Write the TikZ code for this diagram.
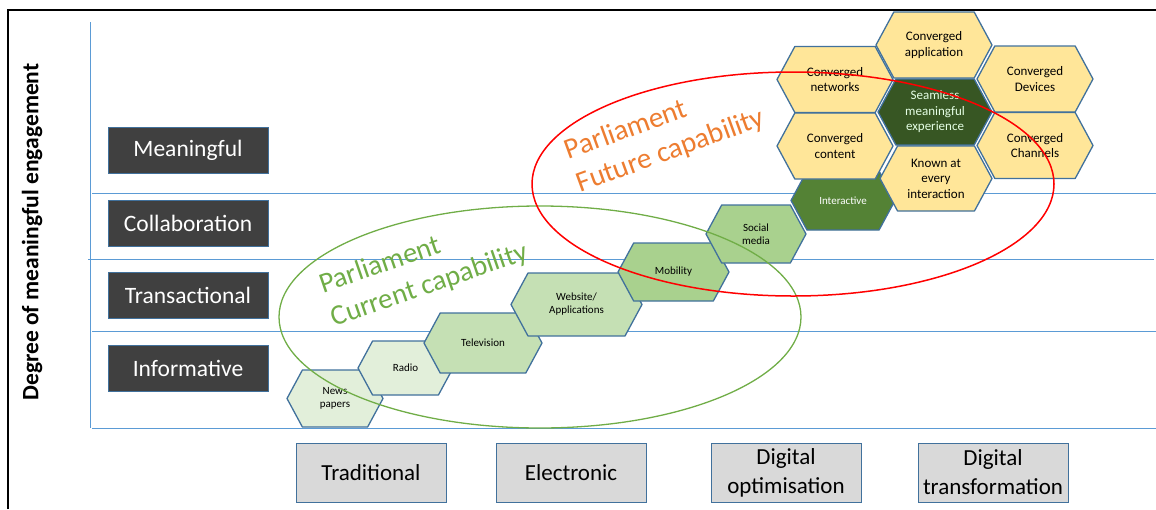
\documentclass[tikz,border=0pt]{standalone}
\usepackage{fontspec}
\setmainfont{Carlito}

\definecolor{ruleblue}{HTML}{5B9BD5}
\definecolor{edgeblue}{HTML}{41719C}
\definecolor{tiergrey}{HTML}{404040}
\definecolor{stagegrey}{HTML}{D9D9D9}
\definecolor{paleg}{HTML}{E2EFDA}
\definecolor{lightg}{HTML}{C5E0B4}
\definecolor{midg}{HTML}{A9D18E}
\definecolor{darkg}{HTML}{548235}
\definecolor{deepg}{HTML}{375623}
\definecolor{goldhex}{HTML}{FFE699}
\definecolor{nowgreen}{HTML}{70AD47}
\definecolor{futureorange}{HTML}{ED7D31}

\tikzset{
    tierbox/.style={draw=edgeblue, line width=1pt, fill=tiergrey, text=white, minimum width=160pt, minimum height=46pt, font=\fontsize{23.5}{28}\selectfont},
    stagebox/.style={draw=edgeblue, line width=1pt, fill=stagegrey, minimum width=150pt, minimum height=59pt, align=center, font=\fontsize{23}{29}\selectfont},
    levelrule/.style={ruleblue, line width=1pt},
    hexline/.style={draw=edgeblue, line width=1.3pt, line join=round},
    hextext/.style={align=center, inner sep=0pt},
    smallhex/.style={font=\fontsize{11}{13}\selectfont},
    bighex/.style={font=\fontsize{13}{15.5}\selectfont},
}

% name, x, y, width, height, fill, text style, text
\newcommand{\hexcell}[8]{%
    \filldraw[hexline, fill=#6] (#2-#4/2,#3) -- (#2-#4/2+0.27*#5,#3-#5/2) -- (#2+#4/2-0.27*#5,#3-#5/2)
        -- (#2+#4/2,#3) -- (#2+#4/2-0.27*#5,#3+#5/2) -- (#2-#4/2+0.27*#5,#3+#5/2) -- cycle;
    \node[hextext, #7] (#1) at (#2,#3) {#8};
}

\begin{document}
\begin{tikzpicture}[x=1pt, y=-1pt]
    \useasboundingbox (0,0) rectangle (1156,509);
    \draw[line width=2pt] (8,509) -- (8,10) -- (1156,10);

    \draw[levelrule] (90,22) -- (90,428);
    \foreach \y in {193,331,428}
        \draw[levelrule] (92,\y) -- (1156,\y);
    \draw[levelrule] (88,259) -- (1154,259);

    \node[rotate=90, font=\bfseries\fontsize{23.5}{28}\selectfont] (axislabel) at (32,232) {Degree of meaningful engagement};

    \node[tierbox] (meaningful) at (188,150) {Meaningful};
    \node[tierbox] (collaboration) at (188,223) {Collaboration};
    \node[tierbox] (transactional) at (188,295) {Transactional};
    \node[tierbox] (informative) at (188,368) {Informative};

    \node[stagebox] (traditional) at (371,472.5) {Traditional};
    \node[stagebox] (electronic) at (571,472.5) {Electronic};
    \node[stagebox] (digitalopt) at (786,472.5) {Digital\\optimisation};
    \node[stagebox] (digitaltrans) at (993,472.5) {Digital\\transformation};

    \hexcell{newspapers}{335}{398.5}{96}{57}{paleg}{smallhex}{News\\papers}
    \hexcell{radio}{405.5}{368}{95}{54}{paleg}{smallhex}{Radio}
    \hexcell{television}{483}{343}{118}{60}{lightg}{smallhex}{Television}
    \hexcell{website}{576.5}{304.5}{131}{63}{lightg}{smallhex}{Website/\\Applications}
    \hexcell{mobility}{673.5}{272}{111}{58}{midg}{smallhex}{Mobility}
    \hexcell{socialmedia}{756}{234}{100}{58}{midg}{smallhex}{Social\\media}
    \hexcell{interactive}{843}{200.5}{104}{59}{darkg}{smallhex, text=white}{Interactive}
    \hexcell{known}{936}{178.5}{112}{65}{goldhex}{bighex}{Known at\\every\\interaction}
    \hexcell{content}{835}{146}{116}{66}{goldhex}{bighex}{Converged\\content}
    \hexcell{seamless}{935}{112}{114}{66}{deepg}{bighex, text=white!90!green}{Seamless\\meaningful\\experience}
    \hexcell{networks}{835}{79.5}{116}{66}{goldhex}{bighex}{Converged\\networks}
    \hexcell{application}{934}{45}{116}{66}{goldhex}{bighex}{Converged\\application}
    \hexcell{devices}{1035}{79}{116}{66}{goldhex}{bighex}{Converged\\Devices}
    \hexcell{channels}{1035}{145.5}{116}{66}{goldhex}{bighex}{Converged\\Channels}

    \draw[nowgreen, line width=1.3pt] (540,317) ellipse [x radius=261pt, y radius=111pt];
    \draw[red, line width=1.5pt] (793,184) ellipse [x radius=261pt, y radius=112pt];

    \node[rotate=19, align=left, text=nowgreen, font=\fontsize{28.5}{35}\selectfont] (nowlabel) at (424,269) {Parliament\\Current capability};
    \node[rotate=20, align=left, text=futureorange, font=\fontsize{29}{35}\selectfont] (futurelabel) at (665,135) {Parliament\\Future capability};
\end{tikzpicture}
\end{document}
